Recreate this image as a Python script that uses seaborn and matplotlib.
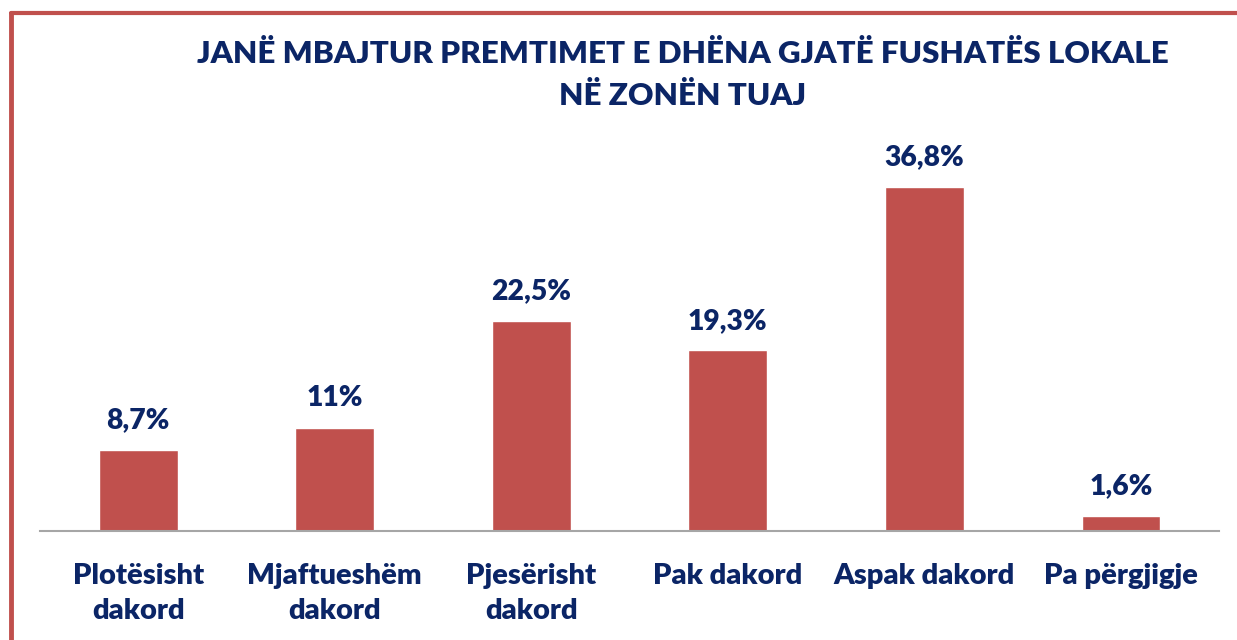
import matplotlib
matplotlib.use("Agg")
import matplotlib.pyplot as plt
import seaborn as sns
import pandas as pd
from matplotlib.lines import Line2D

categories = ["Plotësisht\ndakord", "Mjaftueshëm\ndakord", "Pjesërisht\ndakord",
              "Pak dakord", "Aspak dakord", "Pa përgjigje"]
values = [8.7, 11, 22.5, 19.3, 36.8, 1.6]
value_labels = ["8,7%", "11%", "22,5%", "19,3%", "36,8%", "1,6%"]
title = "JANË MBAJTUR PREMTIMET E DHËNA GJATË FUSHATËS LOKALE\nNË ZONËN TUAJ"

sns.set_theme(style="white")
plt.rcParams['font.family'] = ['Lato', 'DejaVu Sans']

navy = "#0B2566"
bar_color = "#C0504D"

df = pd.DataFrame({"cat": categories, "val": values})

fig = plt.figure(figsize=(12.37, 6.4), dpi=100)
ax = fig.add_axes([0.0323, 0.1703, 0.9532, 0.627])
sns.barplot(data=df, x="cat", y="val", color=bar_color, saturation=1, width=0.4, ax=ax)

ax.set_xlim(-0.5, 5.5)
ax.set_ylim(0, 42.9)
for s in ["top", "right", "left"]:
    ax.spines[s].set_visible(False)
ax.spines["bottom"].set_color("#A6A6A6")
ax.spines["bottom"].set_linewidth(1.5)
ax.set_yticks([])
ax.set_xlabel("")
ax.set_ylabel("")
ax.tick_params(axis="x", length=0, pad=23)
for t in ax.get_xticklabels():
    t.set_fontsize(21)
    t.set_fontweight("heavy")
    t.set_color(navy)
    t.set_linespacing(1.45)

for p, lab in zip(ax.patches, value_labels):
    ax.annotate(lab, (p.get_x() + p.get_width() / 2, p.get_height()),
                xytext=(0, 12), textcoords="offset points", ha="center", va="bottom",
                fontsize=20.3, fontweight="heavy", color=navy)

fig.text(0.552, 0.883, title, ha="center", va="center", fontsize=22.6,
         fontweight="heavy", color=navy, linespacing=1.58)

# border lines
fig.add_artist(Line2D([0.0085, 1.0], [0.979, 0.979], transform=fig.transFigure,
                      color=bar_color, lw=3))
fig.add_artist(Line2D([0.0085, 0.0085], [0.0, 0.979], transform=fig.transFigure,
                      color=bar_color, lw=3.5))

fig.savefig("out.png", dpi=100)
